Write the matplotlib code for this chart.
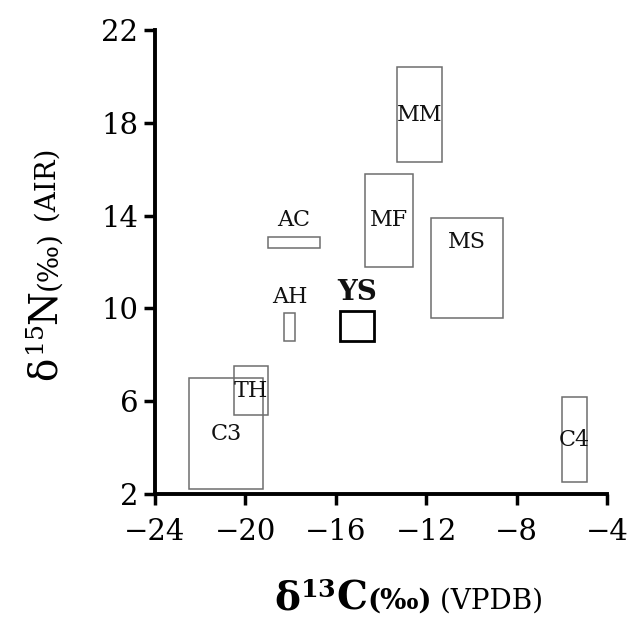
import matplotlib
matplotlib.use("Agg")
import matplotlib.pyplot as plt
from matplotlib.patches import Rectangle
from matplotlib.transforms import IdentityTransform

plt.rcParams["font.family"] = "DejaVu Serif"
plt.rcParams["mathtext.fontset"] = "dejavuserif"

# isotope ranges per group (d13C, d15N)
groups = ["C3", "TH", "AH", "AC", "YS", "MF", "MM", "MS", "C4"]
c13_min = [-22.5, -20.5, -18.3, -19.0, -15.8, -14.7, -13.3, -11.8, -6.0]
c13_max = [-19.2, -19.0, -17.8, -16.7, -14.3, -12.6, -11.3, -8.6, -4.9]
n15_min = [2.2, 5.4, 8.6, 12.6, 8.6, 11.8, 16.3, 9.6, 2.5]
n15_max = [7.0, 7.5, 9.8, 13.1, 9.9, 15.8, 20.4, 13.9, 6.2]
label_at = ["center", "center", "above", "above", "above", "center", "center", "top", "center"]

x_ticks = [-24, -20, -16, -12, -8, -4]
y_ticks = [2, 6, 10, 14, 18, 22]

fig = plt.figure(figsize=(6.27, 6.19), dpi=100)
ax = fig.add_axes([0.2472, 0.2019, 0.7209, 0.7496])

for g, x0, x1, y0, y1, where in zip(groups, c13_min, c13_max, n15_min, n15_max, label_at):
    ours = g == "YS"
    ax.add_patch(Rectangle((x0, y0), x1 - x0, y1 - y0, fill=False,
                           edgecolor="black" if ours else "#6e6e6e",
                           lw=2.0 if ours else 1.1, clip_on=False))
    cx = (x0 + x1) / 2
    if where == "center":
        ty, va = (y0 + y1) / 2, "center"
    elif where == "above":
        ty, va = y1 + 0.22, "bottom"
    else:
        ty, va = y1 - 0.55, "top"
    ax.text(cx, ty, g, ha="center", va=va,
            fontsize=20 if ours else 16,
            fontweight="bold" if ours else "normal", color="#111111")

ax.set_xlim(-24, -4)
ax.set_ylim(2, 22)
ax.set_xticks(x_ticks)
ax.set_yticks(y_ticks)
ax.set_xticklabels([f"\u2212{abs(v)}" for v in x_ticks])
ax.spines["top"].set_visible(False)
ax.spines["right"].set_visible(False)
for s in ("left", "bottom"):
    ax.spines[s].set_linewidth(2.8)
ax.tick_params(axis="both", direction="out", length=8, width=2.5, labelsize=21)
ax.tick_params(axis="x", pad=9)
ax.tick_params(axis="y", pad=4)

# axis titles built from pieces of different sizes
renderer = fig.canvas.get_renderer()


def chain(pieces, x, y, rotation=0):
    for s, size, weight in pieces:
        t = fig.text(x, y, s, fontsize=size, fontweight=weight, ha="left",
                     va="baseline", rotation=rotation, rotation_mode="anchor",
                     transform=IdentityTransform())
        bb = t.get_window_extent(renderer)
        if rotation == 0:
            x = bb.x1
        else:
            y = bb.y1


chain([("δ", 28, "bold"), (r"$^{\mathbf{13}}$", 26, "bold"), ("C", 28, "bold"),
       ("(‰)", 20, "bold"), (" (VPDB)", 20, "normal")], 274, 10)
chain([("δ", 28, "normal"), (r"$^{15}$", 26, "normal"), ("N", 28, "normal"),
       ("(‰)", 20, "normal"), (" (AIR)", 20, "normal")], 56, 239, rotation=90)

fig.savefig("out.png", dpi=100)
